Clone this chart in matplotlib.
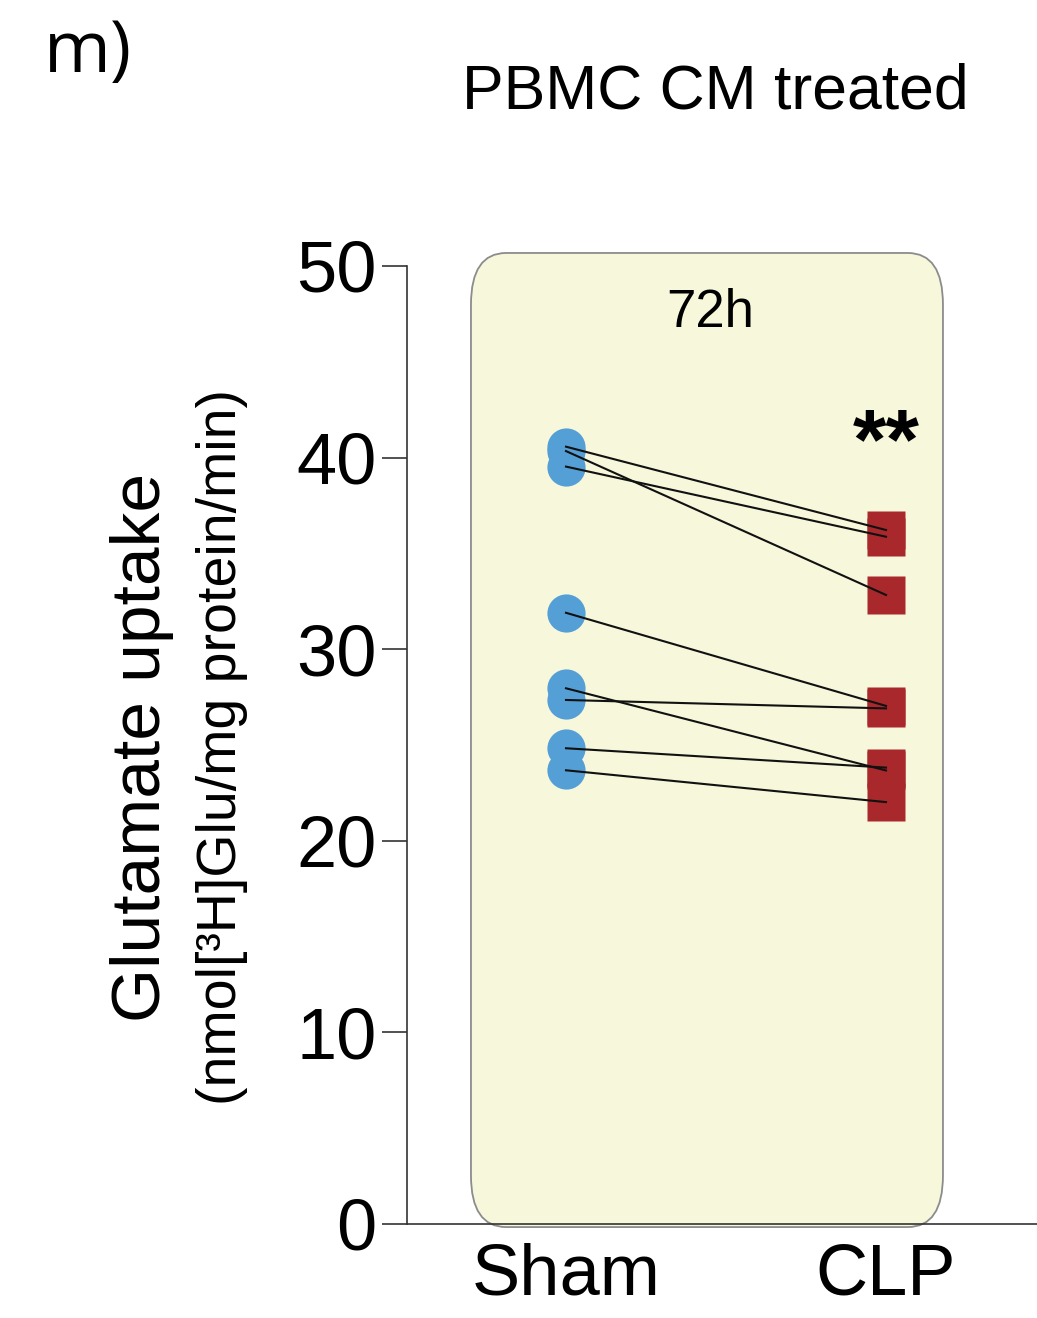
import matplotlib
matplotlib.use("Agg")
import matplotlib.pyplot as plt
from matplotlib.patches import FancyBboxPatch

# ---- data ----
groups = ["Sham", "CLP"]
sham_values = [40.57, 40.34, 39.53, 31.9, 27.96, 27.35, 24.83, 23.68]
clp_values = [36.22, 32.83, 35.87, 27.04, 23.67, 26.91, 23.82, 22.02]
y_ticks = [0, 10, 20, 30, 40, 50]
title = "PBMC CM treated"
panel_label = "m)"
time_label = "72h"
signif = "**"
ylabel_main = "Glutamate uptake"
ylabel_unit = "(nmol[³H]Glu/mg protein/min)"

W, H = 1037, 1318
fig = plt.figure(figsize=(W / 100, H / 100), dpi=100)
ax = fig.add_axes([407 / W, 94 / H, 630 / W, 958 / H])
ax.set_ylim(0, 50)
ax.set_xlim(-159 / 320, 471 / 320)

sans = ["Liberation Sans", "DejaVu Sans"]
osans = ["Open Sans", "DejaVu Sans"]

# background rounded box
box = FancyBboxPatch((-0.297, -0.16), 1.475, 50.84,
                     boxstyle="round,pad=0,rounding_size=0.11",
                     mutation_aspect=24.5, transform=ax.transData,
                     fc="#F7F7DB", ec="#8C8C8C", lw=1.3, clip_on=False, zorder=0)
ax.add_patch(box)

xs = list(range(len(groups)))
ax.plot([xs[0]] * len(sham_values), sham_values, "o", ms=27.5, color="#559FD7",
        mec="none", zorder=2, clip_on=False)
ax.plot([xs[1]] * len(clp_values), clp_values, "s", ms=28, color="#A8282C",
        mec="none", zorder=2, clip_on=False)
for a, b in zip(sham_values, clp_values):
    ax.plot(xs, [a, b], color="#111111", lw=1.5, zorder=3)

for s in ["top", "right"]:
    ax.spines[s].set_visible(False)
for s in ["left", "bottom"]:
    ax.spines[s].set_color("#333333")
    ax.spines[s].set_linewidth(1.2)

ax.set_yticks(y_ticks)
ax.set_yticklabels([str(v) for v in y_ticks], fontsize=52, family=sans)
ax.tick_params(axis="y", length=18, width=1.2, color="#333333", pad=4)
ax.set_xticks(xs)
ax.set_xticklabels(groups, fontsize=52, family=sans)
ax.tick_params(axis="x", length=0, pad=13)

ax.text(0.45, 47.55, time_label, fontsize=38, family=sans, ha="center", va="center")
ax.text(1.0, 39.45, signif, fontsize=62, family=sans, fontweight="bold", ha="center", va="baseline")

fig.text(715 / W, 1 - 92 / H, title, fontsize=45, family=sans, ha="center", va="center")
fig.text(44 / W, 1 - 72 / H, panel_label, fontsize=52, family=osans, ha="left", va="baseline")

yc = 1 - 747 / H
fig.text(160 / W, yc, ylabel_main, fontsize=50, family=sans, rotation=90,
         rotation_mode="anchor", ha="center", va="baseline")
fig.text(236 / W, yc, ylabel_unit, fontsize=40, family=sans, rotation=90,
         rotation_mode="anchor", ha="center", va="baseline")

fig.savefig("out.png", dpi=100)
